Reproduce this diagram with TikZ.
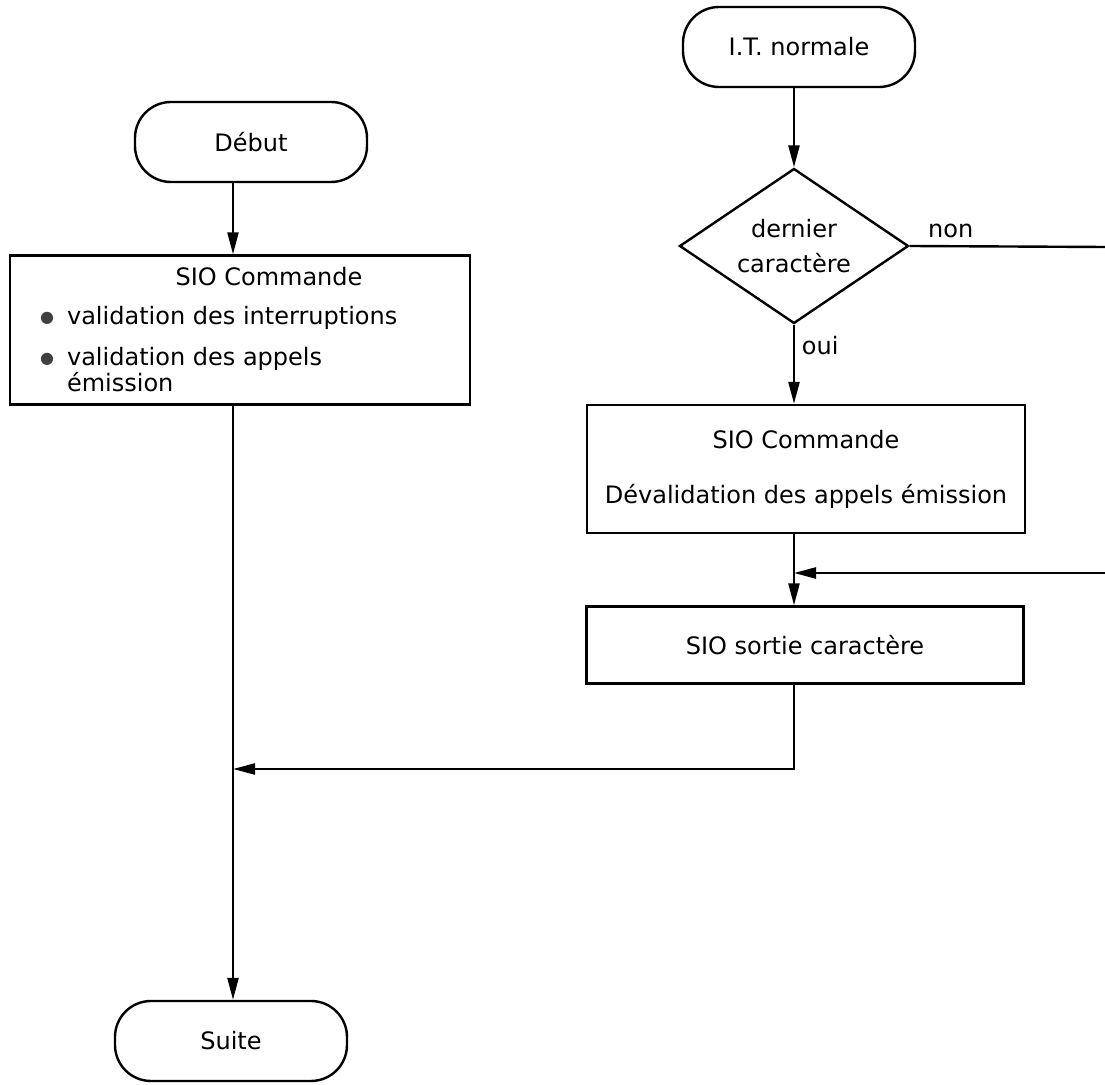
\documentclass[tikz,border=0pt]{standalone}
\usepackage{fontspec}
\setmainfont{DejaVu Sans}
\usetikzlibrary{shapes.geometric,arrows.meta}
\tikzset{
  terminal/.style={
    draw,
    line width=1.2pt,
    rounded corners=18pt,
    minimum width=116pt,
    minimum height=40pt,
  },
  process box/.style={
    draw,
    line width=1.2pt,
    minimum width={#1},
  },
  decision/.style={
    draw,
    line width=1.2pt,
    diamond,
    aspect=1.48,
    minimum width=114.5pt,
    minimum height=77.5pt,
    inner sep=1pt,
    align=center,
  },
  flow/.style={
    line width=1.2pt,
    -{Triangle[length=11pt,width=5.5pt]},
  },
  wire/.style={
    line width=1.2pt,
  },
  every node/.style={
    font=\fontsize{12}{13}\selectfont,
  },
}
\newcommand{\flowdot}{\makebox[13.5pt][l]{\raisebox{0.8pt}{\color{black!75}\fontsize{8}{8}\selectfont ●}}}

\begin{document}
\begin{tikzpicture}[x=0.5pt, y=-0.5pt]
        \useasboundingbox (0,0) rectangle (1105,1085);
        \coordinate (ltrunk) at (233,0);
        \coordinate (rtrunk) at (794,0);

        \node [terminal] (debut) at (251,142) {Début};
        \node [process box=230pt, minimum height=74.5pt] (sioa) at (240,330) {};
        \node (sioa title) at (269,277) {SIO Commande};
        \node [align=left, anchor=west] (sioa items) at (33,349)
          {\flowdot validation des interruptions\\[7.5pt]
           \flowdot validation des appels\\
           \hspace*{13.5pt}émission};
        \node [terminal] (suite) at (231,1041) {Suite};

        \node [terminal] (itn) at (799,47) {I.T. normale};
        \node [decision] (dia) at (794,246) {dernier\\[4.5pt]caractère};
        \node [process box=219pt, minimum height=64pt, align=center] (siob) at (806,469)
          {SIO Commande\\[14.5pt]Dévalidation des appels émission};
        \node [process box=218.5pt, minimum height=38.5pt] (sioc) at (805,645) {SIO sortie caractère};

        \coordinate (nonout) at (1105,247);
        \coordinate (nonin) at (1105,573);
        \coordinate (join) at (233,769);

        \draw [flow] (debut.south -| ltrunk) -- (sioa.north -| ltrunk);
        \draw [flow] (sioa.south -| ltrunk) -- (suite.north -| ltrunk);
        \draw [flow] (itn.south -| rtrunk) -- (dia.north);
        \draw [wire] (dia.east) -- (nonout) node [pos=0.21, above] {non};
        \draw [flow] (dia.south) -- (siob.north -| rtrunk) node [pos=0.27, right] {oui};
        \draw [flow] (siob.south -| rtrunk) -- (sioc.north -| rtrunk);
        \draw [flow] (nonin) -- (nonin -| rtrunk);
        \draw [flow] (sioc.south -| rtrunk) |- (join);
      \end{tikzpicture}
\end{document}
